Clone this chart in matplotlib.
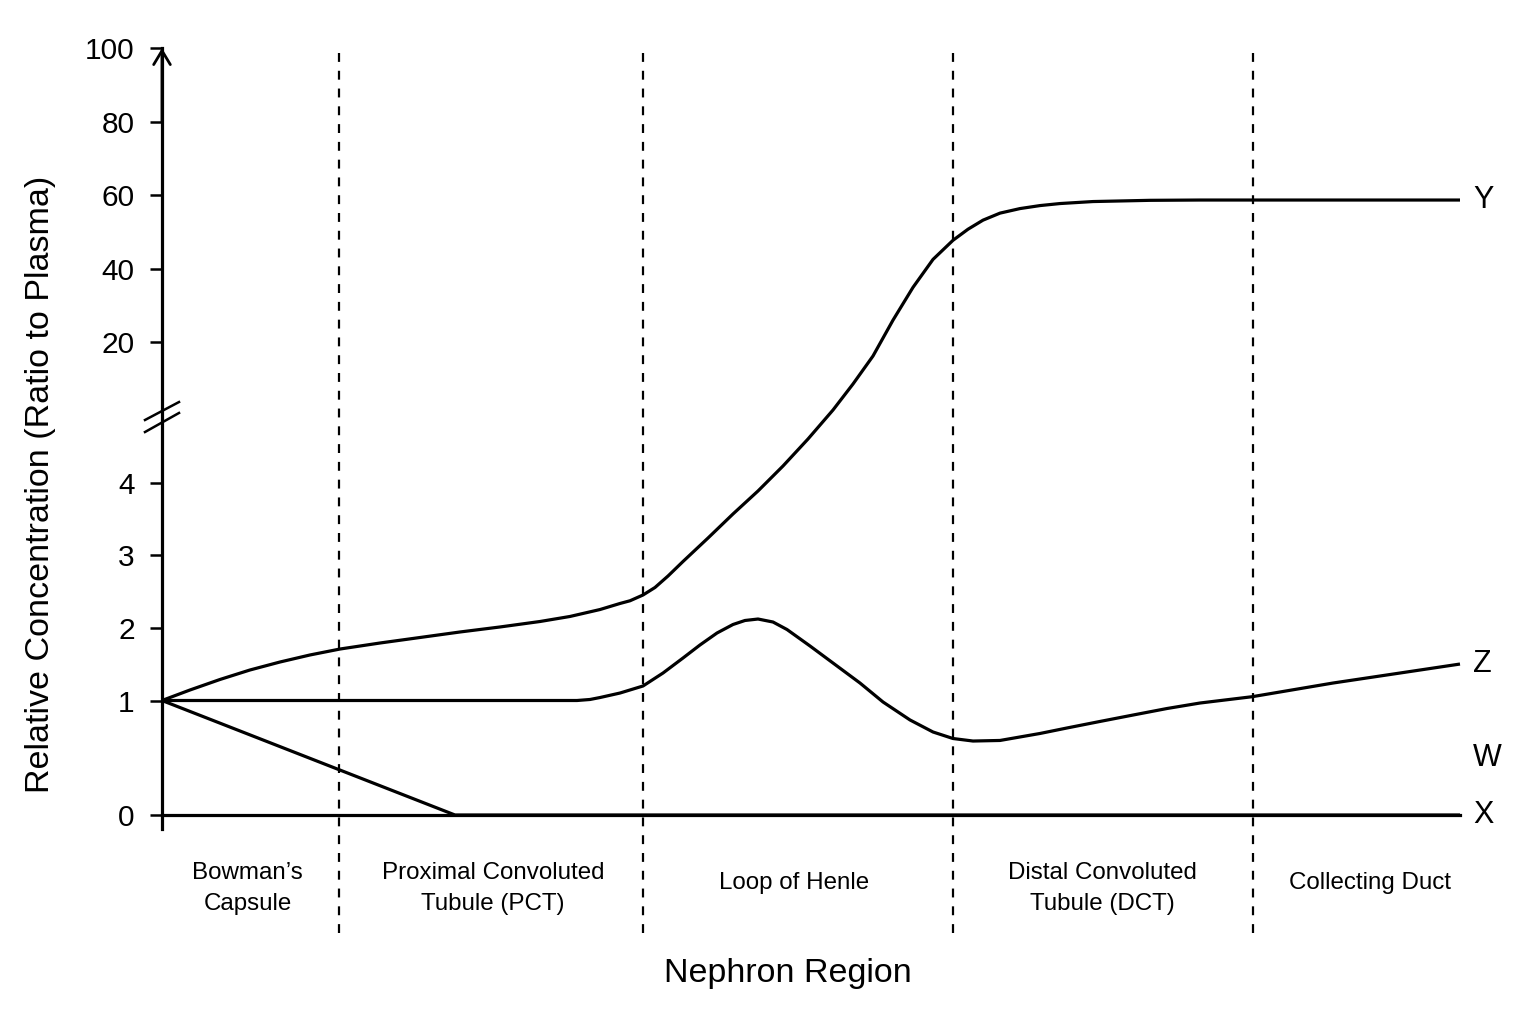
import numpy as np
import matplotlib
matplotlib.use("Agg")
import matplotlib.pyplot as plt
import matplotlib.transforms as mtransforms

plt.rcParams['font.family'] = ['Liberation Sans', 'DejaVu Sans']

# ---------------- data ----------------
regions = ["Bowman\u2019s\nCapsule", "Proximal Convoluted\nTubule (PCT)", "Loop of Henle",
           "Distal Convoluted\nTubule (DCT)", "Collecting Duct"]
boundaries = [0.0, 1.765, 4.805, 7.905, 10.905, 12.98]   # region limits along nephron
region_label_x = [0.855, 3.31, 6.32, 9.40, 12.08]

y_ticks = [0, 1, 2, 3, 4, 20, 40, 60, 80, 100]
y_ticklabels = ["0", "1", "2", "3", "4", "20", "40", "60", "80", "100"]

# substance Y
y_x = [0.00, 0.28, 0.58, 0.88, 1.18, 1.48, 1.78, 2.18, 2.58, 2.98, 3.38, 3.78, 4.08,
       4.38, 4.58, 4.68, 4.81, 4.93, 5.06, 5.21, 5.46, 5.71, 5.96, 6.21, 6.46, 6.71,
       6.91, 7.11, 7.31, 7.51, 7.71, 7.91, 8.06, 8.21, 8.38, 8.58, 8.78, 8.98, 9.31,
       9.88, 10.38, 12.98]
y_v = [1.000, 1.145, 1.290, 1.421, 1.531, 1.628, 1.710, 1.793, 1.869, 1.945, 2.014,
       2.089, 2.158, 2.253, 2.336, 2.373, 2.452, 2.555, 2.712, 2.911, 3.234, 3.566,
       3.883, 5.879, 8.954, 12.256, 15.217, 18.406, 25.99, 34.97, 42.59, 47.76, 50.75,
       53.20, 55.10, 56.33, 57.14, 57.69, 58.23, 58.56, 58.64, 58.64]

# substance Z
z_x = [0.00, 2.00, 4.15, 4.28, 4.38, 4.58, 4.81, 5.01, 5.21, 5.38, 5.55, 5.71, 5.83,
       5.96, 6.11, 6.25, 6.48, 6.71, 6.98, 7.21, 7.48, 7.71, 7.91, 8.11, 8.38, 8.78,
       9.05, 9.38, 9.71, 10.05, 10.38, 10.90, 11.71, 12.38, 12.98]
z_v = [1.000, 1.000, 1.000, 1.014, 1.041, 1.103, 1.200, 1.379, 1.586, 1.766, 1.931,
       2.048, 2.103, 2.123, 2.082, 1.979, 1.752, 1.517, 1.241, 0.987, 0.830, 0.725,
       0.668, 0.646, 0.651, 0.712, 0.760, 0.817, 0.873, 0.930, 0.978, 1.052, 1.241,
       1.379, 1.503]

# substance X
x_x = [0.00, 2.93, 12.98]
x_v = [1.00, 0.00, 0.00]

series_labels = ["Y", "Z", "W", "X"]
series_label_v = [58.64, 1.503, 0.50, 0.00]

# ---------------- broken (piecewise linear) y scale ----------------
scale_vals = np.array([0, 1, 2, 3, 4, 20, 40, 60, 80, 100], float)
scale_pos = np.array([0, 114.5, 187, 260, 332.5, 473, 546, 620, 693, 767], float)
lo_slope = 114.5
hi_slope = (767 - 693) / 20.0


def fwd(v):
    v = np.asarray(v, float)
    out = np.interp(v, scale_vals, scale_pos)
    out = np.where(v < 0, v * lo_slope, out)
    out = np.where(v > 100, 767 + (v - 100) * hi_slope, out)
    return out


def inv(t):
    t = np.asarray(t, float)
    out = np.interp(t, scale_pos, scale_vals)
    out = np.where(t < 0, t / lo_slope, out)
    out = np.where(t > 767, 100 + (t - 767) / hi_slope, out)
    return out


# ---------------- figure ----------------
W, H = 1536, 1024
fig = plt.figure(figsize=(W / 100, H / 100), dpi=100)
ax = fig.add_axes([162 / W, (H - 829) / H, 1298 / W, 781 / H])
ax.set_yscale('function', functions=(fwd, inv))
ax.set_xlim(0, 12.98)
ax.set_ylim(-14 / lo_slope, 100)

lw = 2.3
for xs, vs in [(y_x, y_v), (z_x, z_v), (x_x, x_v)]:
    ax.plot(xs, vs, color='black', lw=lw, solid_capstyle='butt',
            solid_joinstyle='round', clip_on=False)

# region dividers
for b in boundaries[1:-1]:
    ax.axvline(b, ymin=-0.133, ymax=0.996, color='black', lw=1.6,
               dashes=(4, 4), clip_on=False)

# spines
for s in ['top', 'right']:
    ax.spines[s].set_visible(False)
ax.spines['left'].set_linewidth(2.3)
ax.spines['bottom'].set_linewidth(2.3)
ax.spines['bottom'].set_position(('data', 0))
ax.set_xticks([])
ax.set_yticks(y_ticks)
ax.set_yticklabels(y_ticklabels)
ax.tick_params(axis='y', direction='out', length=8.6, width=1.8, pad=11,
               labelsize=21.5)
ax.yaxis.set_minor_locator(matplotlib.ticker.NullLocator())

# arrow head at top of y axis
ax.annotate('', xy=(0, 100), xytext=(0, 80),
            arrowprops=dict(arrowstyle='->,head_length=0.5,head_width=0.3',
                            lw=2.0, color='black', shrinkA=0, shrinkB=0,
                            mutation_scale=20),
            annotation_clip=False)

# axis break marks
for y0, y1 in [(0.5237, 0.5467), (0.5083, 0.5327)]:
    ax.plot([-0.0131, 0.0131], [y0, y1], transform=ax.transAxes,
            color='black', lw=1.8, clip_on=False)

# region labels
tb = mtransforms.blended_transform_factory(ax.transData, ax.transAxes)
for lab, xc in zip(regions, region_label_x):
    if '\n' in lab:
        ax.text(xc, -0.0423, lab, transform=tb, ha='center', va='top',
                fontsize=17.4, linespacing=1.52, multialignment='center')
    else:
        ax.text(xc, -0.0768, lab, transform=tb, ha='center', va='baseline',
                fontsize=17.4)

# series labels
for lab, v in zip(series_labels, series_label_v):
    ax.text(13.11, v, lab, ha='left', va='center', fontsize=22, clip_on=False)

# axis titles
fig.text(787.5 / W, 1 - 981.7 / H, "Nephron Region", ha='center', va='baseline',
         fontsize=24.5)
fig.text(41 / W, 1 - 484 / H, "Relative Concentration (Ratio to Plasma)",
         rotation=90, ha='center', va='center', fontsize=24.5)

fig.savefig("out.png", dpi=100, facecolor='white')
